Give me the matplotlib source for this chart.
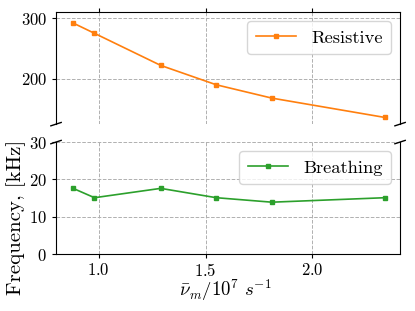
import matplotlib
matplotlib.use("Agg")
import matplotlib.pyplot as plt

# values
nu = [0.88, 0.98, 1.29, 1.55, 1.81, 2.34]
resistive = [292, 275, 222, 190, 168, 136]
breathing = [17.6, 15.1, 17.6, 15.1, 13.9, 15.1]

plt.rcParams['font.family'] = 'serif'
plt.rcParams['font.serif'] = ['cmr10']
plt.rcParams['mathtext.fontset'] = 'cm'
plt.rcParams['axes.formatter.use_mathtext'] = True
plt.rcParams['font.size'] = 12

fig, (ax1, ax2) = plt.subplots(2, 1, sharex=True, figsize=(4.15, 3.11), dpi=100)
fig.subplots_adjust(left=0.135, right=0.964, top=0.961, bottom=0.183, hspace=0.16)

ax1.plot(nu, resistive, '-s', color='#ff7f0e', markersize=3.5, lw=1.2, label='Resistive')
ax2.plot(nu, breathing, '-s', color='#2ca02c', markersize=3.5, lw=1.2, label='Breathing')

ax1.set_ylim(125, 310)
ax1.set_yticks([200, 300])
ax2.set_ylim(0, 30)
ax2.set_yticks([0, 10, 20, 30])
ax2.set_xlim(0.80, 2.41)
ax2.set_xticks([1.0, 1.5, 2.0])

ax1.spines['bottom'].set_visible(False)
ax2.spines['top'].set_visible(False)
ax1.xaxis.tick_top()
ax1.tick_params(labeltop=False)
ax2.xaxis.tick_bottom()

for ax in (ax1, ax2):
    ax.grid(True, ls='--', color='#b0b0b0', lw=0.7)
    ax.legend(loc='upper right', fancybox=True, handlelength=2.2, fontsize=13.3,
              borderpad=0.45)
    ax.tick_params(length=3)
ax2.tick_params(axis='x', pad=2.5)

# break marks
d = 0.015
kw = dict(transform=ax1.transAxes, color='k', clip_on=False, lw=1)
ax1.plot((-d, +d), (-d, +d), **kw)
ax1.plot((1 - d, 1 + d), (-d, +d), **kw)
kw.update(transform=ax2.transAxes)
ax2.plot((-d, +d), (1 - d, 1 + d), **kw)
ax2.plot((1 - d, 1 + d), (1 - d, 1 + d), **kw)

fig.text(0.04, 0.30, 'Frequency, [kHz]', rotation=90, va='center', ha='center', fontsize=15)
fig.text(0.432, 0.066, r'$\bar{\nu}_m/10^7\ s^{-1}$', ha='left', va='center', fontsize=13.5)

fig.savefig('out.png', dpi=100)
